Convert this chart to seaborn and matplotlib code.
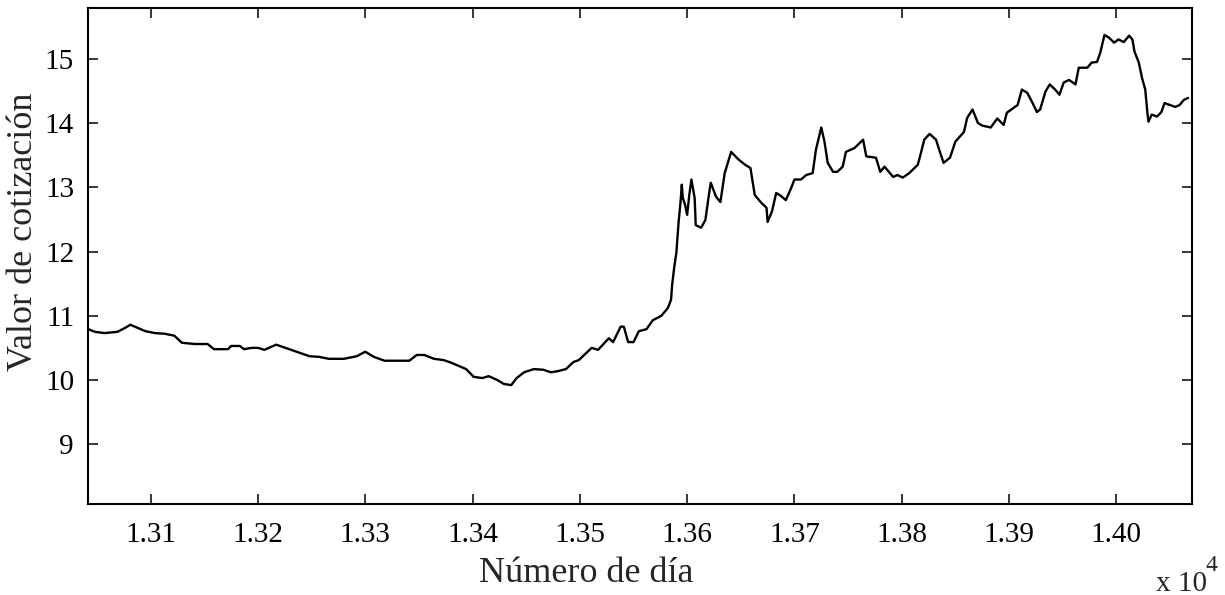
import matplotlib
matplotlib.use("Agg")
import matplotlib.pyplot as plt
import seaborn as sns
import pandas as pd

# Day number and quoted value
days = [
    13042, 13048, 13057, 13069, 13076, 13081, 13088, 13095, 13104, 13113,
    13122, 13129, 13141, 13153, 13159, 13172, 13175, 13183, 13187, 13194,
    13200, 13206, 13217, 13229, 13239, 13248, 13257, 13266, 13280, 13292,
    13300, 13308, 13318, 13332, 13341, 13348, 13355, 13364, 13373, 13380,
    13387, 13394, 13401, 13409, 13415, 13423, 13429, 13436, 13441, 13448,
    13457, 13466, 13473, 13480, 13487, 13494, 13499, 13511, 13517, 13527,
    13531, 13538, 13541, 13545, 13550, 13555, 13562, 13568, 13576, 13582,
    13585, 13586, 13588, 13590, 13592, 13594, 13595, 13596, 13598, 13600,
    13602, 13604, 13607, 13608, 13613, 13617, 13620, 13622, 13627, 13631,
    13635, 13641, 13648, 13654, 13659, 13663, 13669, 13674, 13675, 13679,
    13683, 13687, 13692, 13697, 13700, 13706, 13711, 13717, 13720, 13725,
    13728, 13731, 13736, 13740, 13745, 13748, 13756, 13764, 13767, 13776,
    13780, 13784, 13792, 13796, 13801, 13807, 13815, 13818, 13821, 13826,
    13832, 13835, 13839, 13845, 13850, 13858, 13861, 13866, 13871, 13875,
    13883, 13889, 13895, 13898, 13908, 13912, 13917, 13922, 13926, 13929,
    13934, 13938, 13943, 13947, 13951, 13956, 13962, 13965, 13973, 13977,
    13982, 13985, 13989, 13993, 13998, 14002, 14007, 14012, 14015, 14017,
    14021, 14024, 14027, 14029, 14030, 14033, 14038, 14042, 14045, 14050,
    14055, 14059, 14063, 14067,
]
values = [
    10.79, 10.75, 10.73, 10.75, 10.81, 10.86, 10.81, 10.76, 10.73, 10.72,
    10.69, 10.58, 10.56, 10.56, 10.48, 10.48, 10.53, 10.53, 10.48, 10.50,
    10.50, 10.47, 10.55, 10.48, 10.42, 10.37, 10.36, 10.33, 10.33, 10.37,
    10.44, 10.36, 10.30, 10.30, 10.30, 10.39, 10.39, 10.33, 10.31, 10.27,
    10.22, 10.17, 10.05, 10.03, 10.06, 10.00, 9.94, 9.92, 10.03, 10.12,
    10.17, 10.16, 10.12, 10.14, 10.17, 10.28, 10.31, 10.50, 10.47, 10.65,
    10.59, 10.83, 10.83, 10.59, 10.59, 10.76, 10.79, 10.93, 11.00, 11.12,
    11.25, 11.48, 11.76, 11.99, 12.45, 12.80, 13.04, 12.83, 12.73, 12.57,
    12.88, 13.12, 12.83, 12.41, 12.37, 12.49, 12.85, 13.07, 12.85, 12.77,
    13.22, 13.55, 13.43, 13.35, 13.30, 12.88, 12.76, 12.68, 12.46, 12.62,
    12.91, 12.87, 12.80, 12.99, 13.12, 13.12, 13.19, 13.22, 13.58, 13.93,
    13.71, 13.38, 13.24, 13.24, 13.32, 13.55, 13.61, 13.74, 13.48, 13.46,
    13.24, 13.32, 13.16, 13.19, 13.15, 13.22, 13.35, 13.54, 13.74, 13.83,
    13.74, 13.58, 13.38, 13.46, 13.71, 13.86, 14.08, 14.21, 14.00, 13.96,
    13.93, 14.07, 13.97, 14.16, 14.28, 14.52, 14.47, 14.31, 14.17, 14.21,
    14.49, 14.60, 14.52, 14.44, 14.63, 14.67, 14.60, 14.86, 14.86, 14.94,
    14.95, 15.09, 15.37, 15.33, 15.25, 15.30, 15.26, 15.36, 15.30, 15.11,
    14.94, 14.70, 14.52, 14.16, 14.02, 14.13, 14.10, 14.17, 14.31, 14.28,
    14.25, 14.28, 14.36, 14.39,
]

x_ticks = [13100, 13200, 13300, 13400, 13500, 13600, 13700, 13800, 13900, 14000]
x_tick_labels = ["1.31", "1.32", "1.33", "1.34", "1.35", "1.36", "1.37", "1.38", "1.39", "1.40"]
y_ticks = [9, 10, 11, 12, 13, 14, 15]
y_tick_labels = ["9", "10", "11", "12", "13", "14", "15"]

df = pd.DataFrame({"dia": days, "valor": values})

sns.set_theme(style="ticks")
plt.rcParams["font.family"] = ["Liberation Serif", "DejaVu Serif"]

fig = plt.figure(figsize=(12.25, 5.95), dpi=100)
ax = fig.add_axes([0.0718, 0.1529, 0.9012, 0.8337])

sns.lineplot(data=df, x="dia", y="valor", ax=ax, color="black",
             linewidth=1.7, estimator=None, sort=False)

ax.set_xlim(13041.5, 14070.5)
ax.set_ylim(8.07, 15.79)
ax.set_xticks(x_ticks)
ax.set_xticklabels(x_tick_labels)
ax.set_yticks(y_ticks)
ax.set_yticklabels(y_tick_labels)

ax.tick_params(axis="both", direction="in", length=7.5, width=1.1,
               colors="black", labelsize=21, top=True, right=True)
ax.tick_params(axis="x", pad=13)
ax.tick_params(axis="y", pad=10)
for s in ax.spines.values():
    s.set_linewidth(1.5)
    s.set_color("black")

ax.set_xlabel("Número de día", fontsize=26, va="center", ha="center")
ax.set_ylabel("Valor de cotización", fontsize=26, va="center", ha="center")
ax.xaxis.set_label_coords(0.451, -0.141)
ax.yaxis.set_label_coords(-0.058, 0.548)

fig.text(1156 / 1225, 1 - 591 / 595, "x 10", fontsize=21, ha="left", va="baseline")
fig.text(1205 / 1225, 1 - 571 / 595, "4", fontsize=17, ha="left", va="baseline")

fig.savefig("out.png", dpi=100)
